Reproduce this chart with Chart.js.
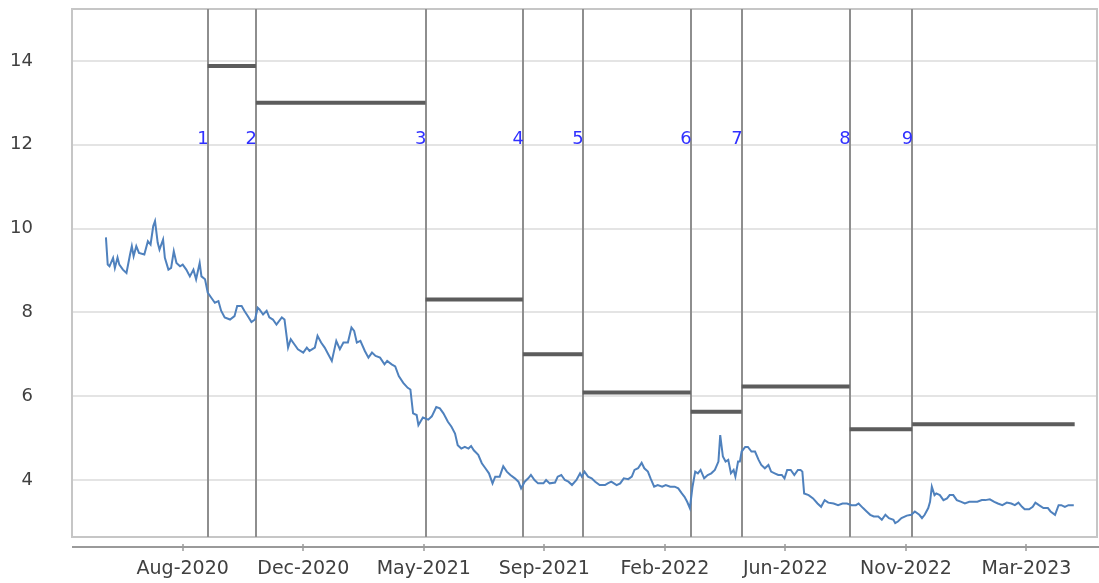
<!DOCTYPE html>
<html>
<head>
<meta charset="utf-8">
<script src="https://cdn.jsdelivr.net/npm/chart.js"></script>
<style>
  html, body { margin: 0; padding: 0; background: #fff; }
</style>
</head>
<body>
<canvas id="chart" width="1099" height="583"></canvas>
<script>
// x values are day numbers counted from 1 Jan 2020 (day 0)
const days = [
  142, 144, 146, 150, 152, 155, 157, 161, 165, 169, 171, 173, 176, 179, 185, 189, 192, 195, 197, 200,
  202, 206, 208, 212, 215, 218, 221, 225, 228, 232, 236, 240, 243, 247, 249, 253, 256, 260, 264, 268,
  271, 275, 281, 286, 289, 294, 297, 301, 305, 309, 312,
  314, 318, 322, 325, 329, 333, 339, 342, 346, 349, 353, 357, 363, 367, 370, 376, 379, 383, 387, 391,
  395, 400, 404, 408, 413, 417, 420, 423, 427, 432, 436, 440, 444, 449, 454, 457, 462, 466, 470, 475,
  480, 483, 486, 490,
  492, 497, 503, 507, 512, 516, 520, 525, 529, 533, 536, 540, 544, 548, 551, 554, 559, 563, 567, 571,
  575, 578, 583, 587, 591, 595, 600, 604, 607, 611, 615, 618, 622, 626, 632, 635, 639, 645, 648, 652,
  656, 660, 664, 669, 673,
  675, 678, 682, 686, 690, 695, 701, 704, 708, 714, 718, 722, 727, 731, 734, 738, 742, 745, 749, 752,
  756, 760, 765, 769, 774, 779, 783, 787, 790, 793, 796, 799, 802, 805, 808, 812, 816, 820, 824, 828,
  830, 833, 836, 839, 842, 845, 847, 850,
  852, 854, 858, 861, 865, 869, 873, 876, 880, 884, 887, 891, 895, 899, 902, 905, 909, 913, 917, 920,
  922, 924, 929, 934, 939, 943, 947, 951, 957, 962, 967, 972, 977, 982, 985, 990, 994, 998, 1002, 1007,
  1011, 1015, 1019, 1024, 1026, 1029,
  1033, 1039, 1044, 1048, 1053, 1056, 1059, 1063, 1065, 1067, 1070, 1072, 1076, 1080, 1084, 1087, 1091,
  1095, 1100, 1104, 1109, 1113, 1118, 1123, 1127, 1132, 1137, 1141, 1146, 1151, 1156, 1160, 1164, 1168,
  1171, 1176, 1180, 1183, 1187, 1192, 1197, 1200, 1205, 1209, 1212, 1216, 1220, 1224, 1226
];
const price = [
  9.79, 9.14, 9.10, 9.30, 9.06, 9.31, 9.14, 9.02, 8.94, 9.38, 9.58, 9.34, 9.58, 9.42, 9.38, 9.70, 9.62, 10.06, 10.18, 9.66,
  9.50, 9.74, 9.30, 9.02, 9.06, 9.46, 9.18, 9.10, 9.14, 9.02, 8.86, 9.02, 8.79, 9.18, 8.86, 8.79, 8.47, 8.35, 8.23, 8.27,
  8.04, 7.88, 7.83, 7.91, 8.15, 8.15, 8.04, 7.91, 7.77, 7.83, 8.11,
  8.07, 7.95, 8.04, 7.88, 7.83, 7.71, 7.88, 7.83, 7.16, 7.36, 7.24, 7.12, 7.04, 7.16, 7.08, 7.16, 7.44, 7.28, 7.16, 7.00,
  6.84, 7.32, 7.12, 7.28, 7.28, 7.64, 7.56, 7.28, 7.32, 7.08, 6.92, 7.04, 6.96, 6.92, 6.76, 6.84, 6.76, 6.71, 6.48, 6.32,
  6.20, 6.16, 5.59, 5.55,
  5.31, 5.49, 5.44, 5.52, 5.74, 5.71, 5.59, 5.39, 5.27, 5.11, 4.83, 4.75, 4.79, 4.75, 4.81, 4.71, 4.60, 4.40, 4.28, 4.16,
  3.92, 4.08, 4.08, 4.33, 4.20, 4.12, 4.04, 3.96, 3.80, 3.96, 4.04, 4.12, 4.00, 3.92, 3.92, 4.00, 3.92, 3.94, 4.08, 4.12,
  4.00, 3.96, 3.88, 4.00, 4.16,
  4.08, 4.20, 4.08, 4.04, 3.96, 3.88, 3.88, 3.92, 3.96, 3.88, 3.92, 4.04, 4.02, 4.08, 4.24, 4.28, 4.41, 4.28, 4.20, 4.04,
  3.84, 3.88, 3.84, 3.88, 3.84, 3.84, 3.80, 3.68, 3.60, 3.48, 3.33, 3.84, 4.20, 4.16, 4.24, 4.04, 4.12, 4.16, 4.24, 4.44,
  5.07, 4.56, 4.44, 4.48, 4.16, 4.24, 4.08, 4.44,
  4.44, 4.68, 4.79, 4.79, 4.68, 4.68, 4.48, 4.36, 4.28, 4.36, 4.20, 4.16, 4.12, 4.12, 4.04, 4.24, 4.24, 4.12, 4.24, 4.24,
  4.20, 3.68, 3.64, 3.56, 3.44, 3.36, 3.52, 3.46, 3.44, 3.40, 3.44, 3.44, 3.40, 3.40, 3.44, 3.33, 3.25, 3.17, 3.13, 3.13,
  3.05, 3.17, 3.09, 3.05, 2.97, 3.01,
  3.09, 3.15, 3.17, 3.25, 3.17, 3.09, 3.17, 3.33, 3.48, 3.84, 3.64, 3.68, 3.64, 3.52, 3.56, 3.64, 3.64,
  3.52, 3.48, 3.44, 3.48, 3.48, 3.48, 3.52, 3.52, 3.54, 3.48, 3.44, 3.40, 3.46, 3.44, 3.40, 3.46, 3.36,
  3.30, 3.30, 3.36, 3.46, 3.40, 3.33, 3.33, 3.25, 3.17, 3.40, 3.40, 3.36, 3.40, 3.40, 3.40
];

// numbered events: vertical lines, with a level held until the next event
const eventDays = [256, 310, 500, 609, 676, 797, 854, 975, 1045];
const eventLabels = ["1", "2", "3", "4", "5", "6", "7", "8", "9"];
const stepLevels = [13.88, 13.0, 8.31, 7.0, 6.09, 5.63, 6.23, 5.21, 5.33];
const stepEnd = 1227;
const labelLevel = 12;

const tickDays = [228, 363, 498, 633, 768, 903, 1038, 1173];
const tickLabels = ["Aug-2020", "Dec-2020", "May-2021", "Sep-2021", "Feb-2022", "Jun-2022", "Nov-2022", "Mar-2023"];
const yTicks = [4, 6, 8, 10, 12, 14];

const FONT = "'DejaVu Sans', Verdana, sans-serif";

const stepPoints = [];
eventDays.forEach((d, i) => {
  const end = i < eventDays.length - 1 ? eventDays[i + 1] : stepEnd;
  stepPoints.push({x: d, y: stepLevels[i]}, {x: end, y: stepLevels[i]}, {x: end, y: null});
});

const decor = {
  id: 'decor',
  beforeDatasetsDraw(chart) {
    const {ctx, chartArea: a, scales: {x}} = chart;
    ctx.save();
    // plot box
    ctx.strokeStyle = '#c6c6c6';
    ctx.lineWidth = 2;
    ctx.strokeRect(a.left, a.top, a.right - a.left, a.bottom - a.top);
    // event lines
    ctx.strokeStyle = '#8e8e8e';
    ctx.lineWidth = 2;
    eventDays.forEach(d => {
      const px = Math.round(x.getPixelForValue(d));
      ctx.beginPath();
      ctx.moveTo(px, a.top);
      ctx.lineTo(px, a.bottom);
      ctx.stroke();
    });
    // separate x axis line with tick marks
    const ay = a.bottom + 10;
    ctx.strokeStyle = '#9a9a9a';
    ctx.beginPath();
    ctx.moveTo(a.left, ay);
    ctx.lineTo(chart.width, ay);
    ctx.stroke();
    ctx.lineWidth = 1.5;
    tickDays.forEach(d => {
      const px = Math.round(x.getPixelForValue(d));
      ctx.beginPath();
      ctx.moveTo(px, ay - 3);
      ctx.lineTo(px, ay + 4);
      ctx.stroke();
    });
    ctx.restore();
  },
  afterDatasetsDraw(chart) {
    const {ctx, scales: {x, y}} = chart;
    ctx.save();
    ctx.fillStyle = '#3030ff';
    ctx.font = '18px ' + FONT;
    ctx.textAlign = 'right';
    ctx.textBaseline = 'alphabetic';
    eventDays.forEach((d, i) => {
      ctx.fillText(eventLabels[i], x.getPixelForValue(d) + 1, y.getPixelForValue(labelLevel) - 1);
    });
    ctx.restore();
  }
};

new Chart("chart", {
  type: "line",
  data: {
    datasets: [{
      data: days.map((d, i) => ({x: d, y: price[i]})),
      borderColor: "#4f81bd",
      borderWidth: 2,
      pointRadius: 0,
      tension: 0,
      fill: false
    }, {
      data: stepPoints,
      borderColor: "#5c5c5c",
      borderWidth: 4,
      borderCapStyle: "butt",
      pointRadius: 0,
      spanGaps: false,
      fill: false
    }]
  },
  options: {
    responsive: false,
    animation: false,
    layout: { padding: { top: 9, right: 2, left: 0, bottom: 0 } },
    plugins: {
      legend: { display: false },
      tooltip: { enabled: false }
    },
    scales: {
      x: {
        type: "linear",
        min: 104,
        max: 1252,
        afterFit: s => { s.height = 46; },
        afterBuildTicks: s => { s.ticks = tickDays.map(v => ({value: v})); },
        grid: { display: false },
        border: { display: false },
        ticks: {
          autoSkip: false,
          maxRotation: 0,
          padding: 13,
          color: "#404040",
          font: { family: FONT, size: 19 },
          callback: v => tickLabels[tickDays.indexOf(v)]
        }
      },
      y: {
        min: 2.64,
        max: 15.24,
        afterFit: s => { s.width = 72; s.paddingTop = 0; s.paddingBottom = 0; },
        afterBuildTicks: s => { s.ticks = yTicks.map(v => ({value: v})); },
        grid: { color: "#e4e4e4", lineWidth: 2, drawTicks: true, tickLength: 35, tickColor: "rgba(0,0,0,0)" },
        border: { display: false },
        ticks: {
          padding: 4,
          color: "#404040",
          font: { family: FONT, size: 18 }
        }
      }
    }
  },
  plugins: [decor]
});
</script>
</body>
</html>
